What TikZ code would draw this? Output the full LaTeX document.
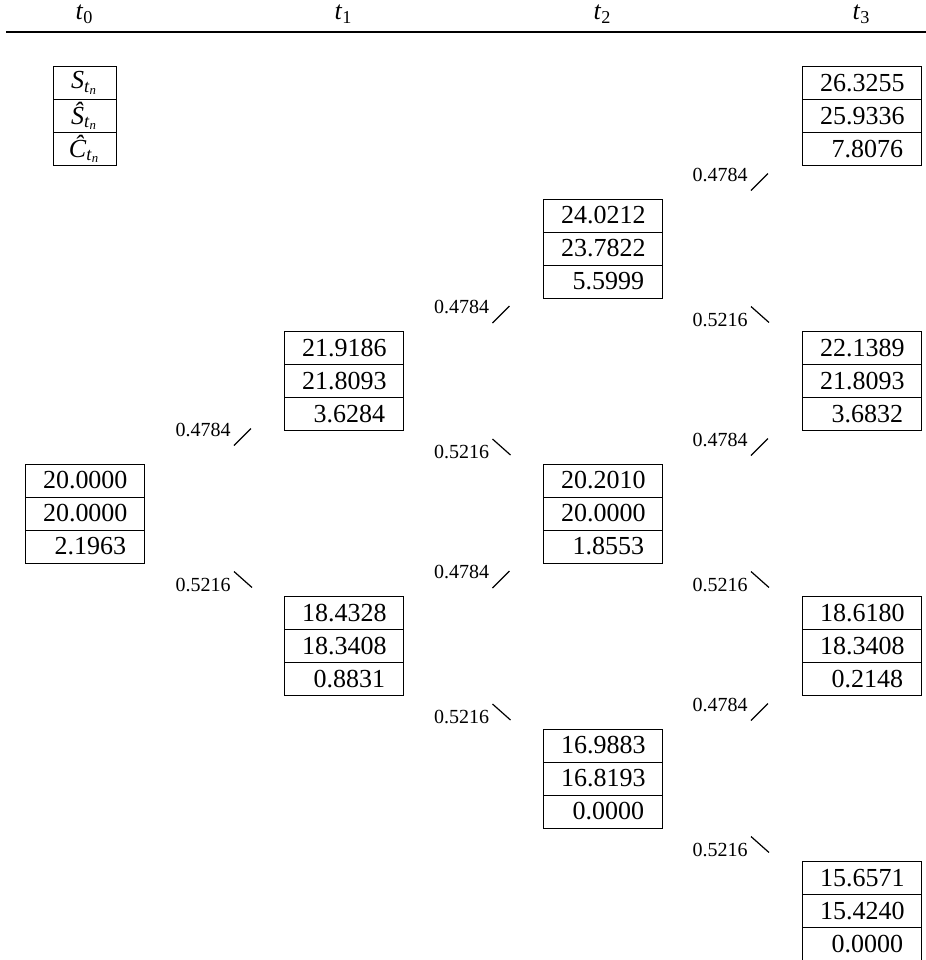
\documentclass[tikz,border=0pt]{standalone}
\usepackage{fontspec}
\setmainfont{Liberation Serif}
\newcommand\tribox[6]{%
  \node[cell] (#1a) at (#2,#3-33) {#4};
  \node[cell] (#1b) at (#2,#3) {#5};
  \node[cell] (#1c) at (#2,#3+33) {#6};}
\newcommand\uplab[4]{% name, right x, y, text
  \node[prob] (#1) at (#2,#3) {#4};
  \draw[tick] ([shift={(3,16)}]#1.east) -- ++(17,-17);}
\newcommand\dnlab[4]{%
  \node[prob] (#1) at (#2,#3) {#4};
  \draw[tick] ([shift={(3,-13)}]#1.east) -- ++(18,16);}
\begin{document}
\begin{tikzpicture}[x=0.5pt,y=-0.5pt,
  cell/.style={draw,line width=0.5pt,minimum width=59.5pt,minimum height=16.5pt,
    inner xsep=8pt,inner ysep=0pt,text width=41.5pt,align=right,
    font=\fontsize{13}{15}\selectfont},
  lgcell/.style={draw,line width=0.5pt,minimum width=31.5pt,minimum height=16.5pt,
    inner sep=0pt,font=\fontsize{13}{15}\selectfont},
  prob/.style={inner sep=0pt,anchor=east,font=\fontsize{10}{12}\selectfont},
  tick/.style={line width=0.6pt},
  hdr/.style={inner sep=0pt,font=\fontsize{13}{15}\selectfont}]
\useasboundingbox (0,0) rectangle (926,960);
% header
\node[hdr] (h0) at (84.5,14) {\textit{t}\textsubscript{0}};
\node[hdr] (h1) at (343.5,14) {\textit{t}\textsubscript{1}};
\node[hdr] (h2) at (602.5,14) {\textit{t}\textsubscript{2}};
\node[hdr] (h3) at (861.5,14) {\textit{t}\textsubscript{3}};
\coordinate (rl) at (6,32);
\coordinate (rr) at (926,32);
\draw[line width=0.75pt] (rl) -- (rr);
% legend
\node[lgcell] (lga) at (84.5,83) {\textit{S}\textsubscript{\textit{t}\textsubscript{\textit{n}}}};
\node[lgcell] (lgb) at (84.5,116) {\textit{Ŝ}\textsubscript{\textit{t}\textsubscript{\textit{n}}}};
\node[lgcell] (lgc) at (84.5,149) {\textit{Ĉ}\textsubscript{\textit{t}\textsubscript{\textit{n}}}};
% boxes
\tribox{n00}{84.5}{513.5}{20.0000}{20.0000}{2.1963}
\tribox{n10}{343.5}{381}{21.9186}{21.8093}{3.6284}
\tribox{n11}{343.5}{646}{18.4328}{18.3408}{0.8831}
\tribox{n20}{602.5}{248.5}{24.0212}{23.7822}{5.5999}
\tribox{n21}{602.5}{513.5}{20.2010}{20.0000}{1.8553}
\tribox{n22}{602.5}{778.5}{16.9883}{16.8193}{0.0000}
\tribox{n30}{861.5}{116}{26.3255}{25.9336}{7.8076}
\tribox{n31}{861.5}{381}{22.1389}{21.8093}{3.6832}
\tribox{n32}{861.5}{646}{18.6180}{18.3408}{0.2148}
\tribox{n33}{861.5}{911}{15.6571}{15.4240}{0.0000}
% probabilities
\uplab{p0u}{231}{429.5}{0.4784}
\dnlab{p0d}{231}{584.5}{0.5216}
\uplab{p1au}{489.5}{307}{0.4784}
\dnlab{p1ad}{489.5}{452}{0.5216}
\uplab{p1bu}{489.5}{572}{0.4784}
\dnlab{p1bd}{489.5}{717}{0.5216}
\uplab{p2au}{748}{174.5}{0.4784}
\dnlab{p2ad}{748}{319.5}{0.5216}
\uplab{p2bu}{748}{439.5}{0.4784}
\dnlab{p2bd}{748}{584.5}{0.5216}
\uplab{p2cu}{748}{704.5}{0.4784}
\dnlab{p2cd}{748}{849.5}{0.5216}
\end{tikzpicture}
\end{document}
